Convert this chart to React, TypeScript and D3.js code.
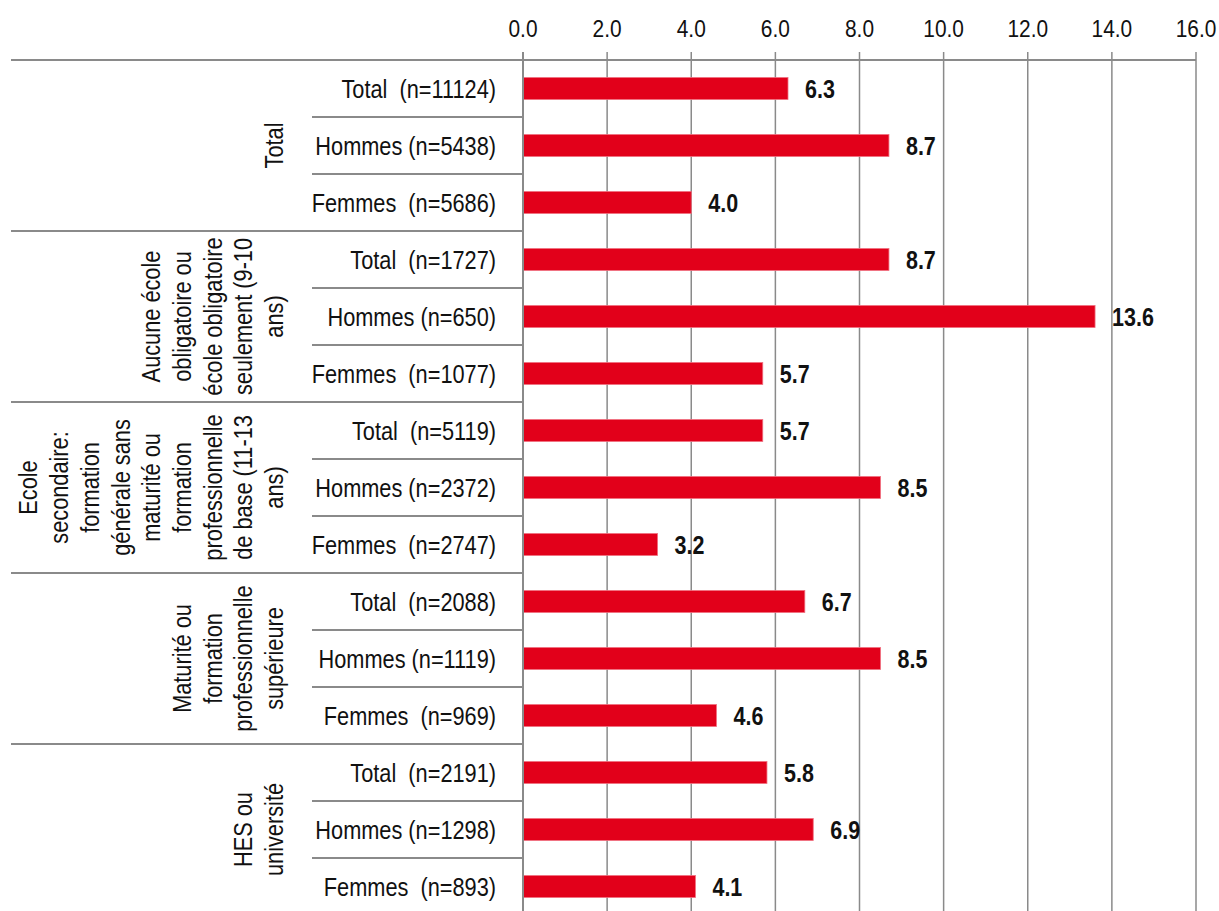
import React from "react";
import * as d3 from "d3";

const groups: string[][] = [
  ["Total"],
  ["Aucune école", "obligatoire ou", "école obligatoire", "seulement (9-10", "ans)"],
  ["Ecole", "secondaire:", "formation", "générale sans", "maturité ou", "formation", "professionnelle", "de base (11-13", "ans)"],
  ["Maturité ou", "formation", "professionnelle", "supérieure"],
  ["HES ou", "université"],
];

const rowLabels: string[] = [
  "Total  (n=11124)", "Hommes (n=5438)", "Femmes  (n=5686)",
  "Total  (n=1727)", "Hommes (n=650)", "Femmes  (n=1077)",
  "Total  (n=5119)", "Hommes (n=2372)", "Femmes  (n=2747)",
  "Total  (n=2088)", "Hommes (n=1119)", "Femmes  (n=969)",
  "Total  (n=2191)", "Hommes (n=1298)", "Femmes  (n=893)",
];

const values: number[] = [6.3, 8.7, 4.0, 8.7, 13.6, 5.7, 5.7, 8.5, 3.2, 6.7, 8.5, 4.6, 5.8, 6.9, 4.1];

const ticks: number[] = [0, 2, 4, 6, 8, 10, 12, 14, 16];

const FONT = "'Liberation Sans', Arial, sans-serif";

export default function App() {
  const W = 1219, H = 911;
  const x0 = 523, x1 = 1196;
  const top = 60, rowH = 57;
  const x = d3.scaleLinear().domain([0, 16]).range([x0, x1]);
  const y = d3.scaleBand<number>().domain(d3.range(rowLabels.length)).range([top, top + rowH * rowLabels.length]).paddingInner(0).paddingOuter(0);
  const barH = 22;
  const grid = "#8a8a8a";
  const lineGap = 30.7;
  const lastLineBase = 283;
  const fs = 25;
  const sx = 0.87;
  const txt = "#111";

  return (
    <svg width={W} height={H} style={{ position: "absolute", left: 0, top: 0 }} fontFamily={FONT}>
      <rect width={W} height={H} fill="#fff" />
      {ticks.map((t) => (
        <g key={t}>
          <line x1={x(t)} x2={x(t)} y1={52} y2={top + rowH * 15} stroke={grid} strokeWidth={1.5} />
          <text transform={`translate(${x(t)},36.5) scale(${sx},1)`} textAnchor="middle" fontSize={24} fill={txt}>{t.toFixed(1)}</text>
        </g>
      ))}
      <line x1={x0} x2={x1} y1={top} y2={top} stroke={grid} strokeWidth={2} />
      {rowLabels.map((_, i) => {
        if (i === 0) return null;
        const yy = y(i)!;
        const isGroup = i % 3 === 0;
        return <line key={i} x1={isGroup ? 11 : 312} x2={x0} y1={yy} y2={yy} stroke={grid} strokeWidth={2} />;
      })}
      <line x1={11} x2={x0} y1={top} y2={top} stroke={grid} strokeWidth={2} />
      <line x1={11} x2={x0} y1={top + rowH * 15} y2={top + rowH * 15} stroke={grid} strokeWidth={2} />
      {values.map((v, i) => {
        const cy = y(i)! + y.bandwidth() / 2;
        return (
          <g key={i}>
            <rect x={x(0)} y={cy - barH / 2} width={x(v) - x(0)} height={barH} fill="#e2001a" stroke="#f07080" strokeWidth={0.8} />
            <text transform={`translate(${x(v) + 17},${cy + 9}) scale(0.86,1)`} fontSize={fs} fontWeight="bold" fill={txt}>{v.toFixed(1)}</text>
          </g>
        );
      })}
      <line x1={x0} x2={x0} y1={52} y2={top + rowH * 15} stroke={grid} strokeWidth={2} />
      {rowLabels.map((l, i) => (
        <text key={i} transform={`translate(496,${y(i)! + y.bandwidth() / 2 + 9}) scale(${sx},1)`} textAnchor="end" fontSize={fs} fill={txt} style={{ whiteSpace: "pre" }}>{l}</text>
      ))}
      {groups.map((lines, g) => {
        const cy = top + rowH * 3 * g + (rowH * 3) / 2;
        const n = lines.length;
        return (
          <g key={g}>
            {lines.map((ln, k) => {
              const lx = lastLineBase - (n - 1 - k) * lineGap;
              return (
                <text key={k} transform={`translate(${lx},${cy}) rotate(-90) scale(${sx},1)`} textAnchor="middle" fontSize={fs} fill={txt}>{ln}</text>
              );
            })}
          </g>
        );
      })}
    </svg>
  );
}
